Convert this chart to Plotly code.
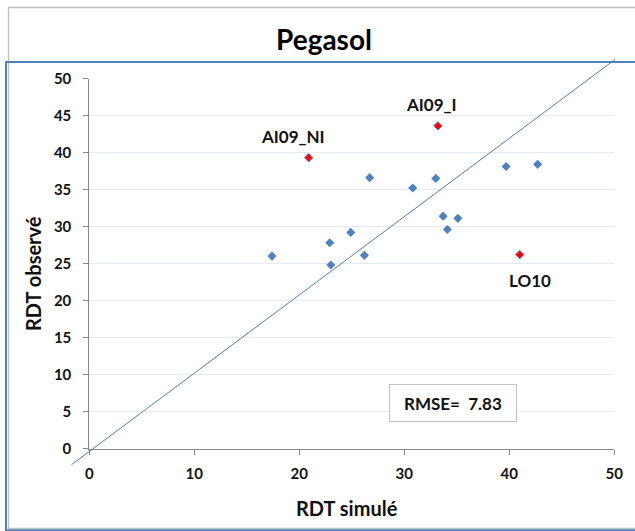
import plotly.graph_objects as go

W, H = 635, 531

# ---------------- data ----------------
title_text = "Pegasol"
x_title = "RDT simulé"
y_title = "RDT observé"

sim_blue = [26.7, 30.8, 33.0, 33.7, 35.1, 34.1, 24.9, 22.9, 17.4, 26.2, 23.0, 39.7, 42.7]
obs_blue = [36.6, 35.2, 36.5, 31.4, 31.1, 29.6, 29.2, 27.8, 26.0, 26.1, 24.8, 38.1, 38.4]

red_names = ["AI09_NI", "AI09_I", "LO10"]
sim_red = [20.9, 33.2, 41.0]
obs_red = [39.3, 43.6, 26.2]

diag_x = [-1.7, 50.1]
diag_y = [-2.2, 52.6]

x_ticks = [0, 10, 20, 30, 40, 50]
y_ticks = [0, 5, 10, 15, 20, 25, 30, 35, 40, 45, 50]
rmse_value = 7.83

# ---------------- layout constants (pixels) ----------------
X0_PX, X1_PX = 89.3, 614.3   # x = 0 .. 50
Y0_PX, Y1_PX = 448.5, 78.5   # y = 0 .. 50
XMAX, YMAX = 50, 50
sx = (X1_PX - X0_PX) / XMAX
sy = (Y0_PX - Y1_PX) / YMAX

# overlay area for the diagonal line (wider than plot area)
OX0, OX1, OY0, OY1 = 55, 632, 40, 478

FONT = "Lato"
BLUE = "#4f81bd"
AXIS_GRAY = "#868686"
GRID = "#e4e9f2"
TXT = "#111111"

fig = go.Figure()

fig.add_trace(go.Scatter(
    x=diag_x, y=diag_y, mode="lines", xaxis="x2", yaxis="y2",
    line=dict(color="#4a7ebb", width=1), hoverinfo="skip", showlegend=False))

fig.add_trace(go.Scatter(
    x=sim_blue, y=obs_blue, mode="markers",
    marker=dict(symbol="diamond", size=7, color=BLUE, line=dict(width=0)),
    showlegend=False, cliponaxis=False))

fig.add_trace(go.Scatter(
    x=sim_red, y=obs_red, mode="markers",
    marker=dict(symbol="diamond", size=6.5, color="#ff0000",
                line=dict(width=1, color=BLUE)),
    showlegend=False, cliponaxis=False))

label_shift = {"AI09_NI": (-16, 21), "AI09_I": (-6, 21), "LO10": (10, -26)}
annotations = []
for name, xv, yv in zip(red_names, sim_red, obs_red):
    dx, dy = label_shift[name]
    annotations.append(dict(
        x=xv, y=yv, xref="x", yref="y", text=name, showarrow=False,
        xshift=dx, yshift=dy, xanchor="center", yanchor="middle",
        font=dict(family=FONT, size=17, color=TXT, weight="bold")))

annotations.append(dict(
    x=323.5 / W, y=1 - 39 / H, xref="paper", yref="paper", text=title_text,
    showarrow=False, xanchor="center", yanchor="middle",
    font=dict(family=FONT, size=28, color="#000000", weight="bold")))

annotations.append(dict(
    x=346.5 / W, y=1 - 507.5 / H, xref="paper", yref="paper", text=x_title,
    showarrow=False, xanchor="center", yanchor="middle",
    font=dict(family=FONT, size=20, color=TXT, weight="bold")))

annotations.append(dict(
    x=33 / W, y=1 - 274 / H, xref="paper", yref="paper", text=y_title,
    showarrow=False, xanchor="center", yanchor="middle", textangle=-90,
    font=dict(family=FONT, size=20, color=TXT, weight="bold")))

annotations.append(dict(
    x=453.3 / W, y=1 - 403.3 / H, xref="paper", yref="paper",
    text=f"RMSE=  {rmse_value:.2f}", showarrow=False,
    xanchor="center", yanchor="middle", width=124, height=34,
    bordercolor="#bfbfbf", borderwidth=1, borderpad=1, bgcolor="#ffffff",
    font=dict(family=FONT, size=17, color=TXT, weight="bold")))

shapes = [
    dict(type="rect", xref="paper", yref="paper",
         x0=8.5 / W, x1=700 / W, y0=1 - 528.3 / H, y1=1 - 7.5 / H,
         line=dict(color="#bfbfbf", width=1.3), fillcolor="rgba(0,0,0,0)", layer="below"),
    dict(type="rect", xref="paper", yref="paper",
         x0=6 / W, x1=700 / W, y0=1 - 530.3 / H, y1=1 - 62 / H,
         line=dict(color=BLUE, width=2), fillcolor="rgba(0,0,0,0)", layer="below"),
]

tickfont = dict(family=FONT, size=15, color=TXT, weight="bold")

fig.update_layout(
    template="none",
    width=W, height=H, autosize=False,
    margin=dict(l=0, r=0, t=0, b=0, pad=0, autoexpand=False),
    paper_bgcolor="#ffffff", plot_bgcolor="rgba(0,0,0,0)",
    showlegend=False,
    xaxis=dict(domain=[X0_PX / W, X1_PX / W], range=[0, XMAX], anchor="y",
               tickvals=x_ticks, showgrid=False, zeroline=False, automargin=False,
               showline=True, linecolor=AXIS_GRAY, linewidth=1,
               ticks="outside", ticklen=5, tickcolor=AXIS_GRAY, tickwidth=1,
               tickfont=tickfont, ticklabelstandoff=6, fixedrange=True),
    yaxis=dict(domain=[1 - Y0_PX / H, 1 - Y1_PX / H], range=[0, YMAX], anchor="x",
               tickvals=y_ticks, showgrid=True, gridcolor=GRID, gridwidth=1,
               zeroline=False, automargin=False,
               showline=True, linecolor=AXIS_GRAY, linewidth=1,
               ticks="outside", ticklen=5, tickcolor=AXIS_GRAY, tickwidth=1,
               tickfont=tickfont, ticklabelstandoff=9, fixedrange=True),
    xaxis2=dict(domain=[OX0 / W, OX1 / W],
                range=[(OX0 - X0_PX) / sx, (OX1 - X0_PX) / sx],
                anchor="y2", visible=False, fixedrange=True, automargin=False),
    yaxis2=dict(domain=[1 - OY1 / H, 1 - OY0 / H],
                range=[(Y0_PX - OY1) / sy, (Y0_PX - OY0) / sy],
                anchor="x2", visible=False, fixedrange=True, automargin=False),
    annotations=annotations,
    shapes=shapes,
)

fig.write_html("out.html", config={"displayModeBar": False})
